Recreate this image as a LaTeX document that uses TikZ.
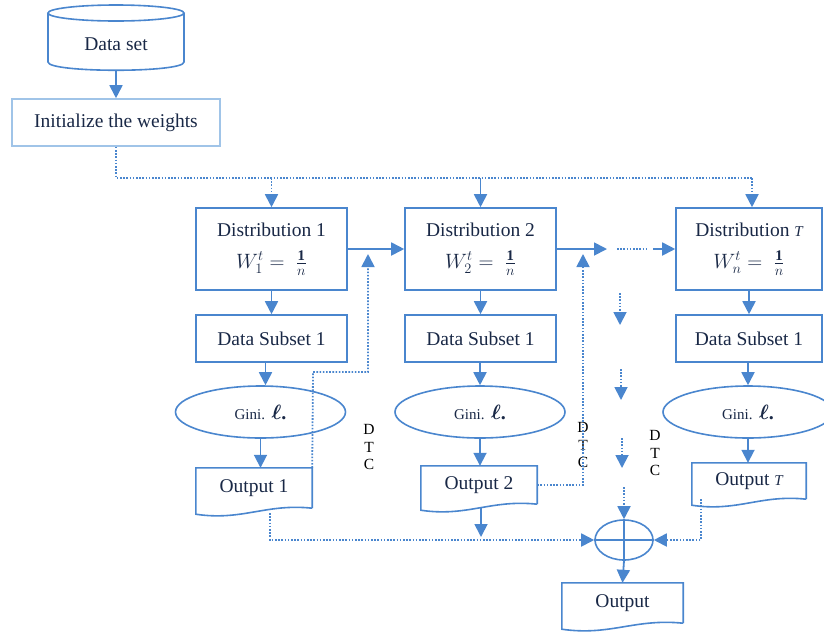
\documentclass[tikz,border=0pt]{standalone}
\usepackage{amsmath}
\usepackage{bm}
\usepackage{fontspec}
\setmainfont{Liberation Serif}
\usetikzlibrary{arrows.meta,shapes.geometric,calc}
\definecolor{ln}{RGB}{74,134,206}
\definecolor{lnlight}{RGB}{160,196,232}
\definecolor{tx}{RGB}{25,40,70}
\newcommand\docshape[1]{\draw[ln,line width=1.6pt] (#1.south east) -- (#1.north east) -- (#1.north west) -- ($(#1.south west)+(0,6)$) .. controls ($(#1.south)+(-12,13)$) and ($(#1.south)+(12,-5)$) .. (#1.south east);}
\newcommand\ginitext{\raisebox{-3pt}{{\fontsize{15}{15}\selectfont Gini.} {\fontsize{20}{20}\selectfont$\bm{\ell}$\textbf{.}}}}
\newcommand\wform[1]{{\fontsize{21}{21}\selectfont$W_{#1}^{t} = \;{\textstyle\frac{\mathbf{1}}{n}}$}}
\begin{document}
\begin{tikzpicture}[x=1pt,y=-1pt,
  txt/.style={text=tx,font=\fontsize{19.5}{22}\selectfont,inner sep=0pt},
  box/.style={txt,draw=ln,line width=1.6pt,rectangle},
  distbox/.style={box,minimum height=82,align=center},
  ell/.style={txt,draw=ln,line width=1.6pt,ellipse,minimum width=170,minimum height=52},
  outbox/.style={txt,inner sep=0pt},
  arr/.style={ln,line width=1.8pt,-{Triangle[length=13pt,width=13pt]}},
  dotl/.style={ln,line width=1.8pt,dash pattern=on 1.6pt off 1.6pt},
  darr/.style={dotl,-{Triangle[length=13pt,width=13pt]}},
  dtc/.style={text=black,font=\fontsize{15.5}{17.5}\selectfont,align=center,inner sep=0pt}]
\useasboundingbox (0,0) rectangle (824,633);

% Data set cylinder
\node[txt,minimum width=136,minimum height=52] (ds) at (116,44) {Data set};
\draw[ln,line width=1.6pt,fill=white] (116,13) ellipse [x radius=68,y radius=8];
\draw[ln,line width=1.6pt] (48,13) -- (48,62) .. controls (48,73) and (184,73) .. (184,62) -- (184,13);

% Initialize
\node[box,draw=lnlight,minimum width=208,minimum height=47] (init) at (116,122.5) {Initialize the weights};

% Distributions
\node[distbox,minimum width=151] (d1) at (271.5,249) {Distribution 1\\[10pt]\wform{1}\hspace{22pt}};
\node[distbox,minimum width=151] (d2) at (480.5,249) {Distribution 2\\[10pt]\wform{2}\hspace{22pt}};
\node[distbox,minimum width=146] (d3) at (749,249) {Distribution {\fontsize{15}{15}\selectfont\itshape T}\\[10pt]\wform{n}\hspace{22pt}};

% Data subsets
\node[box,minimum width=151,minimum height=47] (s1) at (271.5,338.5) {Data Subset 1};
\node[box,minimum width=151,minimum height=47] (s2) at (480.5,338.5) {Data Subset 1};
\node[box,minimum width=146,minimum height=47] (s3) at (749,338.5) {Data Subset 1};

% Gini ellipses
\node[ell] (g1) at (260.5,412) {\ginitext};
\node[ell] (g2) at (480,412) {\ginitext};
\node[ell] (g3) at (748,412) {\ginitext};

% Outputs
\node[outbox,minimum width=116,minimum height=40] (o1) at (254,488) {Output 1};
\node[outbox,minimum width=116,minimum height=38] (o2) at (479,485) {Output 2};
\node[outbox,minimum width=114,minimum height=36] (o3) at (749,481) {Output {\fontsize{15}{15}\selectfont\itshape T}};
\node[outbox,minimum width=121,minimum height=40] (out) at (622.5,603) {Output};
\docshape{o1}
\docshape{o2}
\docshape{o3}
\docshape{out}

% Sum
\node[draw=ln,line width=1.6pt,ellipse,minimum width=58,minimum height=40,inner sep=0pt] (sum) at (624,540) {};
\draw[ln,line width=1.6pt] (sum.north) -- (sum.south) (sum.west) -- (sum.east);

% DTC labels
\node[dtc] (dtc1) at (369,447) {D\\T\\C};
\node[dtc] (dtc2) at (583,445) {D\\T\\C};
\node[dtc] (dtc3) at (655,453) {D\\T\\C};

% Connectors top
\draw[arr] (ds.south) -- (init.north);
\coordinate (bus) at (116,178);
\coordinate (busend) at (752,178);
\draw[dotl] (init.south) -- (bus) -- (busend);
\draw[darr] (d1.north |- bus) -- (d1.north);
\draw[arr] (d2.north |- bus) -- (d2.north);
\draw[darr] (busend) -- (busend |- d3.north);

% Horizontal chain
\draw[arr] (d1.east) -- (d2.west);
\coordinate (dotsA) at (607,249);
\coordinate (dotsB) at (617,249);
\coordinate (dotsC) at (648,249);
\coordinate (dotsD) at (653,249);
\draw[arr] (d2.east) -- (dotsA);
\draw[dotl] (dotsB) -- (dotsC);
\draw[arr] (dotsD) -- (d3.west);

% Vertical chains
\draw[arr] (d1.south) -- (s1.north);
\draw[arr] (d2.south) -- (s2.north);
\draw[arr] (d3.south) -- (s3.north);
\draw[arr] ([xshift=-6pt]s1.south) -- ([xshift=-6pt]s1.south |- g1.north);
\draw[arr] (g2.north |- s2.south) -- (g2.north);
\draw[arr] (g3.north |- s3.south) -- (g3.north);
\draw[arr] (g1.south) -- (g1.south |- o1.north);
\draw[arr] (g2.south) -- (g2.south |- o2.north);
\draw[arr] (g3.south) -- (g3.south |- o3.north);

% Feedback dotted arrows
\coordinate (up1) at (368,254);
\coordinate (up2) at (583,254);
\draw[darr] (o1.north east) -- (313,372) -- (368,372) -- (up1);
\draw[darr] (o2.east) -- (o2.east -| up2) -- (up2);

% Dotted column
\coordinate (c1a) at (620,293); \coordinate (c1b) at (620,325);
\coordinate (c2a) at (621,369); \coordinate (c2b) at (621,400);
\coordinate (c3a) at (622,438); \coordinate (c3b) at (622,468);
\coordinate (c4a) at (624,487);
\draw[darr] (c1a) -- (c1b);
\draw[darr] (c2a) -- (c2b);
\draw[darr] (c3a) -- (c3b);
\draw[darr] (c4a) -- (sum.north);

% Into sum
\coordinate (o1b) at (270,513);
\coordinate (o3b) at (701,499);
\draw[darr] (o1b) -- (o1b |- sum.west) -- (sum.west);
\draw[darr] (o3b) -- (o3b |- sum.east) -- (sum.east);
\coordinate (o2b) at (481,507);
\draw[arr] (o2b) -- (481,537);
\draw[arr] (sum.south) -- (out.north);
\end{tikzpicture}
\end{document}
